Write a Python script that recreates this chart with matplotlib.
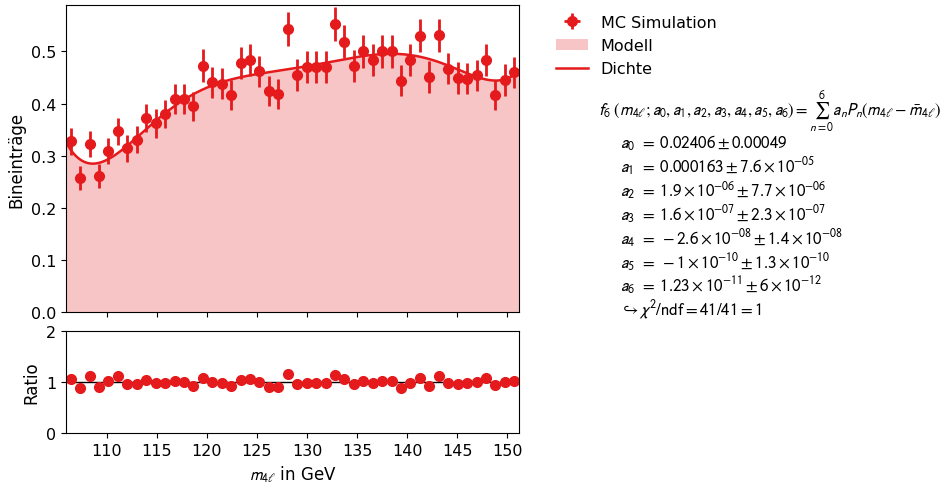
import numpy as np
import matplotlib
matplotlib.use("Agg")
import matplotlib.pyplot as plt

# Histogramm (48 Bins)
m_lo = 105.93
m_hi = 151.16
n_bins = 48

bin_values = [0.328, 0.258, 0.322, 0.261, 0.309, 0.347, 0.314, 0.331, 0.373, 0.362,
              0.380, 0.409, 0.409, 0.395, 0.473, 0.441, 0.438, 0.417, 0.478, 0.484,
              0.462, 0.424, 0.419, 0.543, 0.455, 0.470, 0.470, 0.470, 0.553, 0.519,
              0.472, 0.500, 0.483, 0.500, 0.500, 0.444, 0.483, 0.530, 0.451, 0.531,
              0.467, 0.449, 0.448, 0.454, 0.483, 0.417, 0.445, 0.460]
bin_errors = [0.026, 0.023, 0.025, 0.023, 0.025, 0.026, 0.025, 0.026, 0.027, 0.027,
              0.027, 0.029, 0.029, 0.028, 0.031, 0.030, 0.030, 0.029, 0.031, 0.031,
              0.030, 0.029, 0.029, 0.033, 0.030, 0.031, 0.031, 0.031, 0.033, 0.032,
              0.031, 0.032, 0.031, 0.032, 0.032, 0.030, 0.031, 0.032, 0.030, 0.032,
              0.030, 0.030, 0.030, 0.030, 0.031, 0.029, 0.030, 0.030]
ratio_values = [1.066, 0.88, 1.118, 0.90, 1.03, 1.118, 0.96, 0.96, 1.046, 0.98,
                0.98, 1.03, 1.0, 0.92, 1.09, 1.01, 0.98, 0.92, 1.046, 1.066,
                1.0, 0.91, 0.90, 1.164, 0.96, 0.99, 0.99, 0.99, 1.15, 1.066,
                0.96, 1.02, 0.98, 1.02, 1.02, 0.89, 0.98, 1.08, 0.93, 1.118,
                0.99, 0.96, 0.98, 1.01, 1.08, 0.95, 1.0, 1.02]

curve_m = [105.93, 107.0, 108.2, 109.9, 111.2, 112.7, 114.2, 115.3, 116.5, 118.0,
           119.3, 120.5, 122.7, 126.0, 129.3, 132.7, 135.0, 137.7, 140.3, 142.7,
           145.0, 147.0, 148.7, 150.3, 151.16]
curve_y = [0.322, 0.302, 0.289, 0.293, 0.303, 0.325, 0.357, 0.373, 0.392, 0.410,
           0.428, 0.436, 0.447, 0.460, 0.468, 0.478, 0.491, 0.497, 0.495, 0.481,
           0.465, 0.450, 0.445, 0.452, 0.462]

fit_text = [
    r"$a_0\;\,=\;0.02406 \pm 0.00049$",
    r"$a_1\;\,=\;0.000163 \pm 7.6 \times 10^{-05}$",
    r"$a_2\;\,=\;1.9 \times 10^{-06} \pm 7.7 \times 10^{-06}$",
    r"$a_3\;\,=\;1.6 \times 10^{-07} \pm 2.3 \times 10^{-07}$",
    r"$a_4\;\,=\;-2.6 \times 10^{-08} \pm 1.4 \times 10^{-08}$",
    r"$a_5\;\,=\;-1 \times 10^{-10} \pm 1.3 \times 10^{-10}$",
    r"$a_6\;\,=\;1.23 \times 10^{-11} \pm 6 \times 10^{-12}$",
    r"$\hookrightarrow \chi^2/\mathrm{ndf} = 41/41 = 1$",
]

red = '#e41a1c'
plt.rcParams['mathtext.fontset'] = 'stixsans'

edges = np.linspace(m_lo, m_hi, n_bins + 1)
centers = 0.5 * (edges[1:] + edges[:-1])
half_w = 0.5 * (edges[1] - edges[0])

# glatte Kurve durch die Stützstellen (Polynom, wie das Modell)
xs = np.linspace(m_lo, m_hi, 400)
mc = np.mean(curve_m)
coef = np.polyfit(np.array(curve_m) - mc, curve_y, 6)
ys = np.polyval(coef, xs - mc)

fig = plt.figure(figsize=(9.45, 4.85), dpi=100)
ax = fig.add_axes([0.0698, 0.354, 0.4794, 0.6336])
axr = fig.add_axes([0.0698, 0.1052, 0.4794, 0.2096], sharex=ax)

ax.fill_between(xs, 0, ys, color=red, alpha=0.25, lw=0, label='Modell')
ax.plot(xs, ys, color=red, lw=1.8, label='Dichte')
ax.errorbar(centers, bin_values, yerr=bin_errors, xerr=half_w, fmt='o', color=red,
            ms=7, elinewidth=2, capsize=0, label='MC Simulation')
ax.set_xlim(m_lo, m_hi)
ax.set_ylim(0, 0.589)
ax.set_ylabel('Bineinträge', fontsize=12)
ax.tick_params(labelbottom=False, labelsize=11.5)
ax.set_xticks([110, 115, 120, 125, 130, 135, 140, 145, 150])

h, l = ax.get_legend_handles_labels()
order = [2, 0, 1]
ax.legend([h[i] for i in order], [l[i] for i in order], loc='upper left',
          bbox_to_anchor=(1.05, 1.015), frameon=False, fontsize=11.5,
          labelspacing=0.52)

axr.axhline(1, color='black', lw=1)
axr.plot(centers, ratio_values, 'o', color=red, ms=7)
axr.set_ylim(0, 2)
axr.set_yticks([0, 1, 2])
axr.set_ylabel('Ratio', fontsize=12)
axr.set_xlabel(r'$m_{4\ell}$ in GeV', fontsize=12)
axr.tick_params(labelsize=11.5)

fig.text(0.633, 1 - 115 / 485,
         r"$f_6\ (m_{4\ell}; a_0, a_1, a_2, a_3, a_4, a_5, a_6) = \sum_{n=0}^{6} a_n P_n(m_{4\ell} - \bar{m}_{4\ell})$",
         fontsize=12, va='baseline')
for i, t in enumerate(fit_text):
    fig.text(0.656, 1 - (149 + 23.9 * i) / 485, t, fontsize=12.2, va='baseline')

fig.savefig('out.png', dpi=100)
